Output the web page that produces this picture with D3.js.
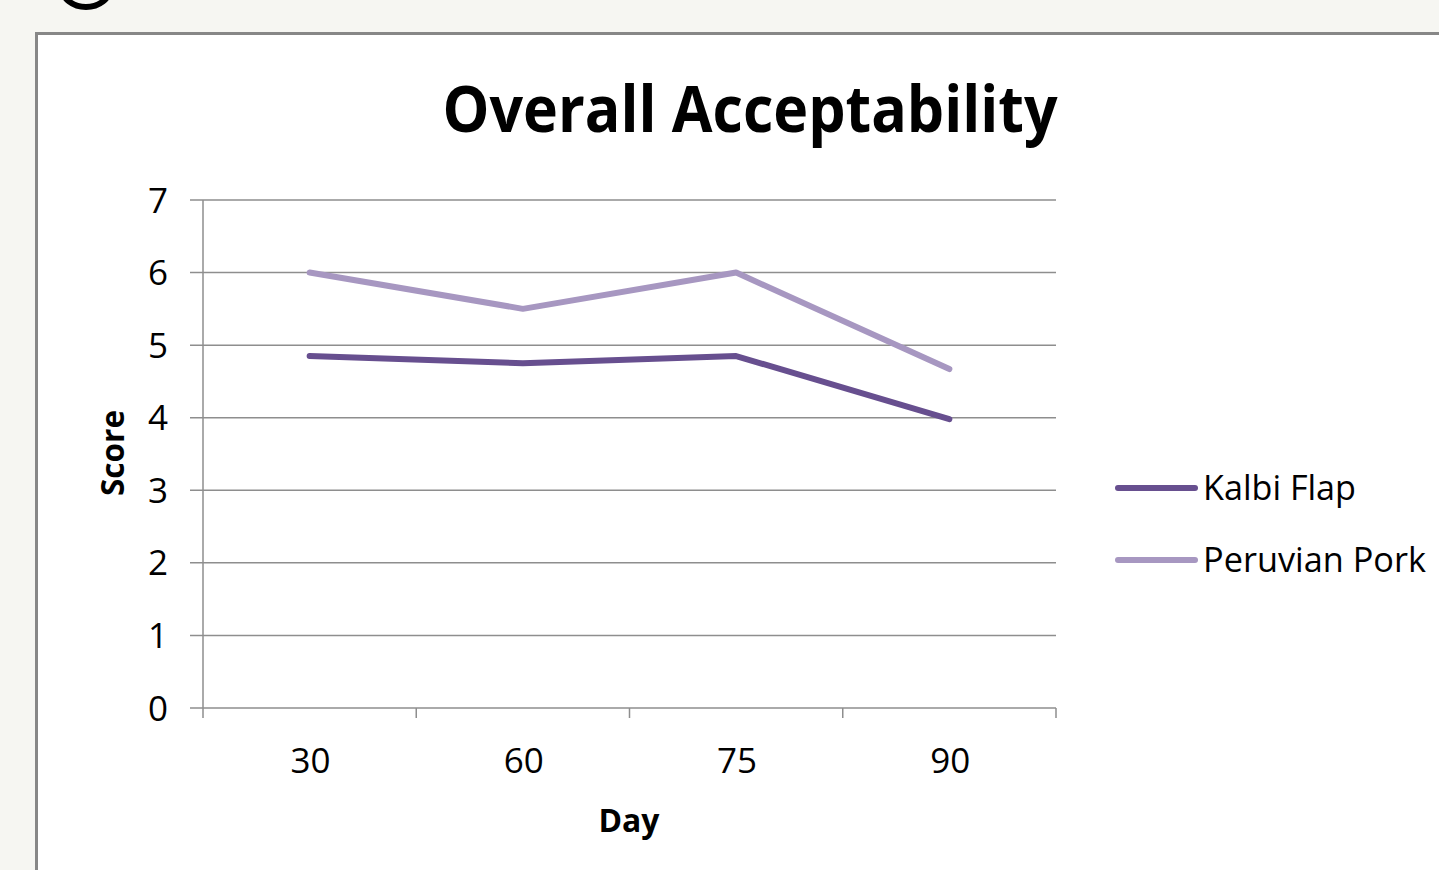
<!DOCTYPE html>
<html><head><meta charset="utf-8">
<script src="https://cdn.jsdelivr.net/npm/d3@7"></script>
<style>html,body{margin:0;padding:0;background:#f6f6f2;overflow:hidden;}</style>
</head><body>
<svg id="c" width="1439" height="870"></svg>
<script>
const categories = ["30","60","75","90"];
const kalbiFlap = [4.85, 4.75, 4.85, 3.98];
const peruvianPork = [6.0, 5.5, 6.0, 4.67];
const yTicks = [0,1,2,3,4,5,6,7];
const seriesNames = ["Kalbi Flap","Peruvian Pork"];
const seriesColors = ["#674f8f","#a797c1"];

const svg = d3.select("#c");
const F = "'Open Sans', 'DejaVu Sans', sans-serif";

// decorative glyph fragment at top-left (bottom of a letter above the chart)
svg.append("ellipse").attr("cx",86).attr("cy",-12).attr("rx",24).attr("ry",19)
  .attr("fill","none").attr("stroke","#000").attr("stroke-width",6);

// chart area
svg.append("rect").attr("x",36.5).attr("y",33.5).attr("width",1500).attr("height",900)
  .attr("fill","#fff").attr("stroke","#878787").attr("stroke-width",3);

const x = d3.scaleBand().domain(categories).range([203,1056]).padding(0);
const y = d3.scaleLinear().domain([0,7]).range([708,200]);

function fit(sel, w){ sel.attr("textLength", w).attr("lengthAdjust","spacingAndGlyphs"); }

// title
fit(svg.append("text").attr("x",750).attr("y",132).attr("text-anchor","middle")
  .attr("font-family",F).attr("font-weight","bold").attr("font-size",64).attr("fill","#000")
  .text("Overall Acceptability"), 615);

// gridlines
const g = svg.append("g");
g.selectAll("line.grid").data(yTicks).join("line").attr("class","grid")
  .attr("x1",190).attr("x2",1056).attr("y1",d=>y(d)).attr("y2",d=>y(d))
  .attr("stroke","#8e8e8e").attr("stroke-width",1.5);
// y axis line
g.append("line").attr("x1",203).attr("x2",203).attr("y1",y(7)).attr("y2",y(0))
  .attr("stroke","#8e8e8e").attr("stroke-width",1.5);
// x ticks at band boundaries
const bounds = categories.map(c=>x(c)).concat([x(categories[categories.length-1])+x.bandwidth()]);
g.selectAll("line.xt").data(bounds).join("line").attr("class","xt")
  .attr("x1",d=>d).attr("x2",d=>d).attr("y1",y(0)).attr("y2",y(0)+10)
  .attr("stroke","#8e8e8e").attr("stroke-width",1.5);

// y tick labels
g.selectAll("text.yl").data(yTicks).join("text").attr("class","yl")
  .attr("x",168).attr("y",d=>y(d)+12.5).attr("text-anchor","end")
  .attr("font-family",F).attr("font-size",35).attr("fill","#000").text(d=>d);
// x tick labels
g.selectAll("text.xl").data(categories).join("text").attr("class","xl")
  .attr("x",d=>x(d)+x.bandwidth()/2+1).attr("y",773).attr("text-anchor","middle")
  .attr("font-family",F).attr("font-size",35).attr("fill","#000").text(d=>d);

// axis titles
fit(svg.append("text").attr("transform","translate(124,453) rotate(-90)").attr("text-anchor","middle")
  .attr("font-family",F).attr("font-weight","bold").attr("font-size",33).attr("fill","#000")
  .text("Score"), 86);
fit(svg.append("text").attr("x",629).attr("y",832).attr("text-anchor","middle")
  .attr("font-family",F).attr("font-weight","bold").attr("font-size",33).attr("fill","#000")
  .text("Day"), 61);

// lines
const line = d3.line().x((d,i)=>x(categories[i])+x.bandwidth()/2).y(d=>y(d));
[kalbiFlap, peruvianPork].forEach((s,i)=>{
  svg.append("path").datum(s).attr("d",line).attr("fill","none")
    .attr("stroke",seriesColors[i]).attr("stroke-width",6)
    .attr("stroke-linecap","round").attr("stroke-linejoin","round");
});

// legend
const legY = [488, 560];
const legW = [153, 223];
seriesNames.forEach((n,i)=>{
  svg.append("line").attr("x1",1118).attr("x2",1195).attr("y1",legY[i]).attr("y2",legY[i])
    .attr("stroke",seriesColors[i]).attr("stroke-width",6).attr("stroke-linecap","round");
  fit(svg.append("text").attr("x",1203).attr("y",legY[i]+12).attr("font-family",F)
    .attr("font-size",35).attr("fill","#000").text(n), legW[i]);
});
</script>
</body></html>
